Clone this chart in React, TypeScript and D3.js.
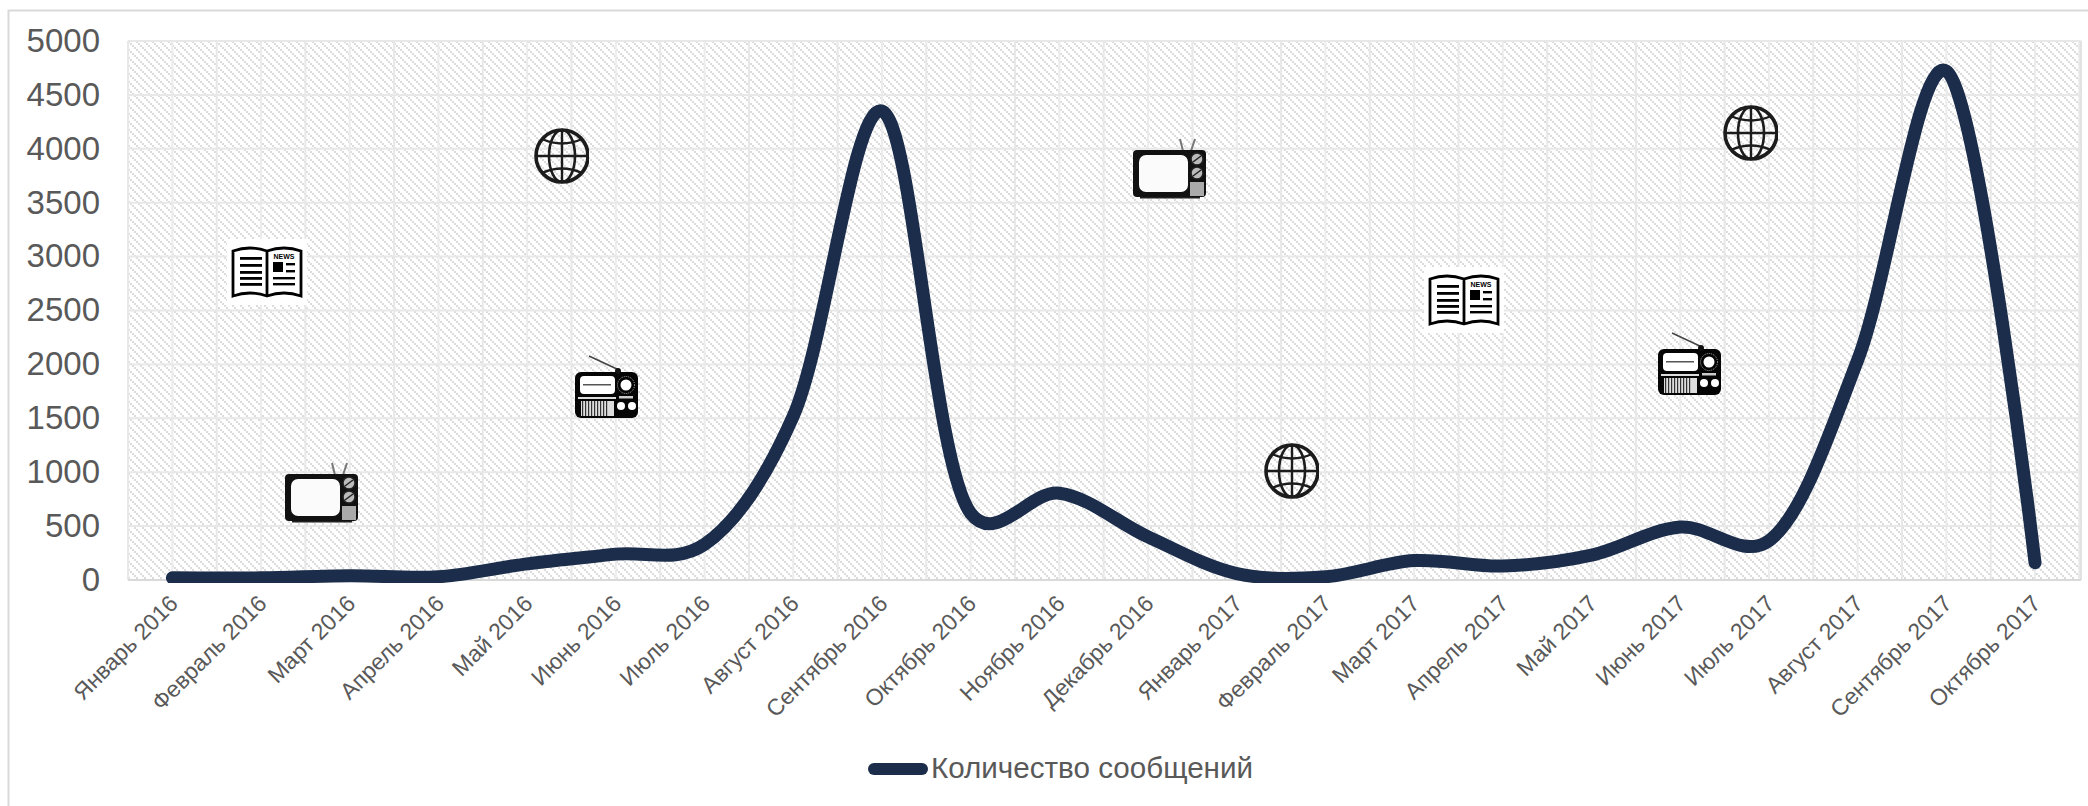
import React from "react";
import * as d3 from "d3";

const months = ["Январь 2016","Февраль 2016","Март 2016","Апрель 2016","Май 2016","Июнь 2016","Июль 2016","Август 2016","Сентябрь 2016","Октябрь 2016","Ноябрь 2016","Декабрь 2016","Январь 2017","Февраль 2017","Март 2017","Апрель 2017","Май 2017","Июнь 2017","Июль 2017","Август 2017","Сентябрь 2017","Октябрь 2017"];
const messages = [20,20,40,30,150,240,330,1520,4350,620,805,400,60,30,180,130,230,491,365,2040,4720,160];
const yTicks = [0,500,1000,1500,2000,2500,3000,3500,4000,4500,5000];
const seriesName = "Количество сообщений";
const newsIcons = [[232,247],[1429,275]];
const tvIcons = [[285,462],[1133,138]];
const radioIcons = [[575,356],[1658,333]];
const globeIcons = [[562,156],[1292,471],[1751,133]];

const W = 2088, H = 806;
const L = 128, R = 2081, T = 41, B = 580;
const FONT = "'Liberation Sans', Arial, sans-serif";
const TXT = "#595959";
const NAVY = "#1b2d4b";

function News({ x, y }: { x: number; y: number }) {
  const left = [13, 20, 27, 33, 39];
  return (
    <g transform={`translate(${x},${y})`}>
      <rect x={-5} y={-8} width={80} height={66} fill="#fff" opacity={0.95} />
      <path d="M1,4 Q18,-2 35,4 Q52,-2 69,4 V49 Q52,43 35,49 Q18,43 1,49 Z M35,4 V49" fill="#fff" stroke="#000" strokeWidth={2.8} />
      {left.map(d => <rect key={d} x={8} y={d - 3} width={22} height={2.8} />)}
      <text x={52} y={12} fontFamily={FONT} fontSize={7} fontWeight={700} textAnchor="middle">NEWS</text>
      <rect x={41} y={15} width={10} height={10} />
      <rect x={54} y={16} width={9} height={2.4} />
      <rect x={54} y={23} width={9} height={2.4} />
      <rect x={41} y={30} width={22} height={2.4} />
      <rect x={41} y={36} width={22} height={2.4} />
    </g>
  );
}

function Tv({ x, y }: { x: number; y: number }) {
  return (
    <g transform={`translate(${x},${y})`}>
      <path d="M50,13 L47,1 M58,13 L62,1" stroke="#777" strokeWidth={2} fill="none" />
      <rect x={0} y={12} width={73} height={47} rx={4} fill="#111" />
      <rect x={6} y={17} width={49} height={37} rx={7} fill="#fbfbfb" />
      <circle cx={64} cy={21} r={6} fill="#bbb" stroke="#222" strokeWidth={1.5} />
      <path d="M60,24 L68,18" stroke="#222" strokeWidth={1.5} />
      <circle cx={64} cy={35} r={6} fill="#bbb" stroke="#222" strokeWidth={1.5} />
      <path d="M60,38 L68,32" stroke="#222" strokeWidth={1.5} />
      <rect x={57} y={44} width={14} height={14} fill="#aaa" />
      <rect x={7} y={59} width={60} height={1.5} fill="#222" />
    </g>
  );
}

function Radio({ x, y }: { x: number; y: number }) {
  const slats = d3.range(7, 33, 3);
  return (
    <g transform={`translate(${x},${y})`}>
      <path d="M14,0 L44,14" stroke="#444" strokeWidth={1.5} />
      <rect x={0} y={16} width={63} height={46} rx={6} fill="#050505" />
      <rect x={5} y={20} width={35} height={18} rx={4} fill="#fff" />
      <rect x={8} y={28} width={28} height={1.5} fill="#555" />
      <rect x={3} y={41} width={38} height={2} fill="#ddd" />
      <rect x={6} y={45} width={33} height={15} fill="#ddd" />
      {slats.map(s => <rect key={s} x={s} y={45} width={1.2} height={15} fill="#333" />)}
      <circle cx={51} cy={29} r={5.5} fill="#fff" />
      <circle cx={51} cy={29} r={8.5} fill="none" stroke="#aaa" strokeWidth={1} strokeDasharray="1 1" />
      <rect x={44} y={40} width={14} height={2.5} fill="#ccc" />
      <circle cx={46} cy={50} r={4} fill="#fff" />
      <circle cx={57} cy={50} r={4} fill="#fff" />
      <circle cx={43} cy={15} r={3} fill="#111" />
    </g>
  );
}

function Globe({ x, y }: { x: number; y: number }) {
  const r = 26;
  return (
    <g transform={`translate(${x},${y})`} fill="none" stroke="#1c1c1c">
      <clipPath id={`g${x}`}><rect x={-29} y={-29} width={56} height={58} /></clipPath>
      <g clipPath={`url(#g${x})`}>
        <circle r={r} strokeWidth={3.6} />
        <ellipse rx={13} ry={r} strokeWidth={2.6} />
        <path d={`M0,${-r} V${r} M${-r},0 H${r}`} strokeWidth={2.4} />
        <path d="M-20,-17 Q0,-8 20,-17 M-20,17 Q0,8 20,17" strokeWidth={2.4} />
      </g>
    </g>
  );
}

export default function App() {
  const x = d3.scaleBand<string>().domain(months).range([L, L + 22 * 88.7]);
  const y = d3.scaleLinear().domain([0, 5000]).range([B, T]);
  const cx = (m: string) => (x(m) as number) + x.bandwidth() / 2;
  const line = d3.line<number>()
    .x((_, i) => cx(months[i]))
    .y(d => y(d))
    .curve(d3.curveCatmullRom.alpha(0.25));
  const edges = d3.range(0, 23).map(i => L + i * x.bandwidth());
  const mids = months.map(cx);

  return (
    <svg width={W} height={H} viewBox={`0 0 ${W} ${H}`} style={{ position: "absolute", left: 0, top: 0, display: "block" }}>
      <defs>
        <pattern id="hatch" width={8} height={8} patternUnits="userSpaceOnUse" x={L} y={T}>
          <rect width={8} height={8} fill="#fff" />
          {[0, 2, 4, 6].map(d => <rect key={d} x={d} y={d} width={2} height={2} fill="#dcdcdc" />)}
        </pattern>
        <clipPath id="plot"><rect x={0} y={0} width={W} height={583} /></clipPath>
      </defs>
      <rect width={W} height={H} fill="#fff" />
      <path d={`M8.5,${H} V10.5 H${W}`} fill="none" stroke="#d9d9d9" strokeWidth={2} />
      <rect x={L} y={T} width={R - L} height={B - T} fill="url(#hatch)" />
      {mids.map(m => <line key={m} x1={m} x2={m} y1={T} y2={B} stroke="#ececec" strokeWidth={2} />)}
      {edges.map(e => <line key={e} x1={e} x2={e} y1={T} y2={B} stroke="#e8e8e8" strokeWidth={2} />)}
      <line x1={R} x2={R} y1={T} y2={B} stroke="#e2e2e2" strokeWidth={2} />
      {yTicks.map(t => <line key={t} x1={L} x2={R} y1={y(t)} y2={y(t)} stroke={t === 0 ? "#d9d9d9" : "#e8e8e8"} strokeWidth={2} />)}
      {yTicks.map(t => (
        <text key={t} x={100} y={y(t) - 1} dy="0.36em" textAnchor="end" fontFamily={FONT} fontSize={33} fill={TXT}>{t}</text>
      ))}
      {months.map(m => (
        <text key={m} textAnchor="end" fontFamily={FONT} fontSize={23} fill={TXT}
          transform={`translate(${cx(m) + 7},${605}) rotate(-45)`}>{m}</text>
      ))}
      {newsIcons.map(([a, b]) => <News key={a} x={a} y={b} />)}
      {tvIcons.map(([a, b]) => <Tv key={a} x={a} y={b} />)}
      {radioIcons.map(([a, b]) => <Radio key={a} x={a} y={b} />)}
      {globeIcons.map(([a, b]) => <Globe key={a} x={a} y={b} />)}
      <g clipPath="url(#plot)">
        <path d={line(messages) as string} fill="none" stroke={NAVY} strokeWidth={13} strokeLinecap="round" strokeLinejoin="round" />
      </g>
      <line x1={874} x2={922} y1={769} y2={769} stroke={NAVY} strokeWidth={12} strokeLinecap="round" />
      <text x={931} y={778} fontFamily={FONT} fontSize={29.6} fill={TXT}>{seriesName}</text>
    </svg>
  );
}
